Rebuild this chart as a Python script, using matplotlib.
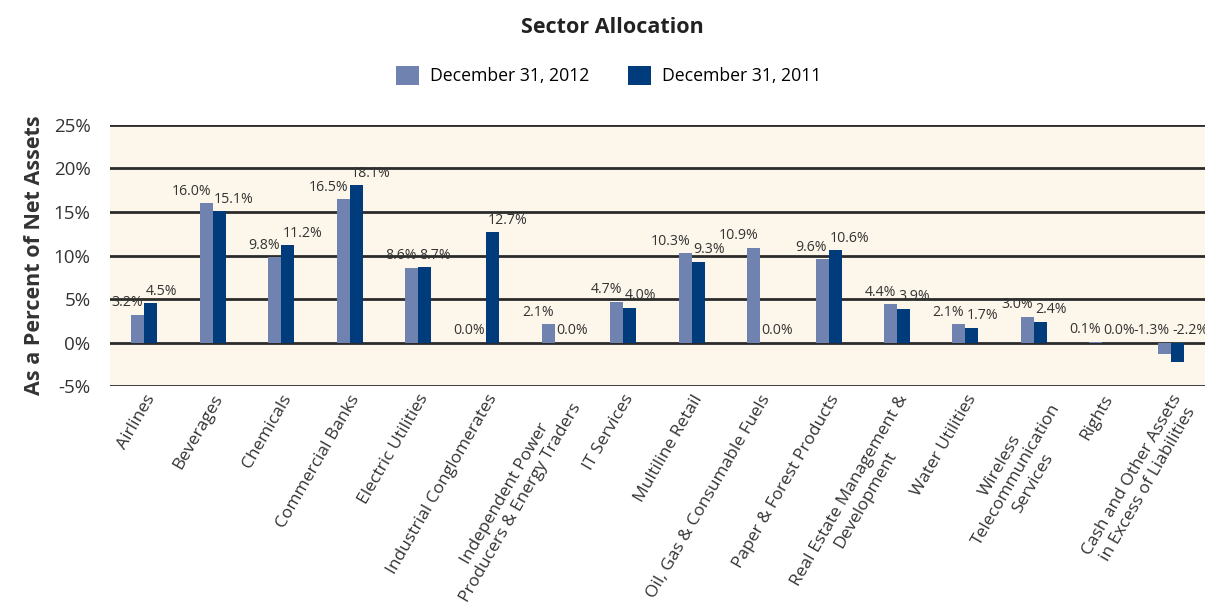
import matplotlib.pyplot as plt
import numpy as np

# Sector allocation data
SECTORS = ['Airlines', 'Beverages', 'Chemicals', 'Commercial Banks', 'Electric Utilities',
           'Industrial Conglomerates', 'Independent Power\nProducers & Energy Traders',
           'IT Services', 'Multiline Retail', 'Oil, Gas & Consumable Fuels',
           'Paper & Forest Products', 'Real Estate Management &\nDevelopment',
           'Water Utilities', 'Wireless\nTelecommunication\nServices', 'Rights',
           'Cash and Other Assets\nin Excess of Liabilities']
DEC_2012 = [3.2, 16.0, 9.8, 16.5, 8.6, 0.0, 2.1, 4.7, 10.3, 10.9, 9.6, 4.4, 2.1, 3.0, 0.1, -1.3]
DEC_2011 = [4.5, 15.1, 11.2, 18.1, 8.7, 12.7, 0.0, 4.0, 9.3, 0.0, 10.6, 3.9, 1.7, 2.4, 0.0, -2.2]
SERIES_NAMES = ['December 31, 2012', 'December 31, 2011']
COLOR_2012 = '#6f82b0'
COLOR_2011 = '#003b7c'
BG_COLOR = '#fdf6ea'

plt.rcParams['font.family'] = ['Open Sans', 'DejaVu Sans']

fig = plt.figure(figsize=(12.05, 6.15), dpi=100)
ax = fig.add_axes([0.0913, 0.372, 0.9087, 0.425])
ax.set_facecolor(BG_COLOR)

x = np.arange(len(SECTORS))
barWidth = 0.19
ax.bar(x - barWidth / 2, DEC_2012, barWidth, color=COLOR_2012, label=SERIES_NAMES[0], zorder=3)
ax.bar(x + barWidth / 2, DEC_2011, barWidth, color=COLOR_2011, label=SERIES_NAMES[1], zorder=3)

# Value labels, left one ends near the pair centre, right one starts there
for i in range(len(SECTORS)):
    ax.text(x[i] - 0.02, max(DEC_2012[i], 0) + 0.5, f'{DEC_2012[i]:.1f}%', ha='right', va='bottom',
            fontsize=10.2, color='#333333', zorder=4)
    ax.text(x[i] + 0.02, max(DEC_2011[i], 0) + 0.5, f'{DEC_2011[i]:.1f}%', ha='left', va='bottom',
            fontsize=10.2, color='#333333', zorder=4)

ax.set_xlim(-0.5, len(SECTORS) - 0.5)
ax.set_ylim(-5, 25)
ax.set_yticks(range(-5, 30, 5))
ax.set_yticklabels([f'{v}%' for v in range(-5, 30, 5)], fontsize=13.5, color='#333333')
for y in range(-5, 30, 5):
    ax.axhline(y, color='#2b2b2b', lw=2, zorder=2)
ax.tick_params(axis='y', length=0, pad=14)
ax.tick_params(axis='x', length=0, pad=4)
ax.set_xticks(x)
ax.set_xticklabels(SECTORS, rotation=60, ha='right', rotation_mode='anchor', fontsize=12.5,
                   color='#333333', multialignment='center')
for spine in ax.spines.values():
    spine.set_visible(False)

ax.set_ylabel('As a Percent of Net Assets', fontsize=15.5, fontweight='bold', color='#333333', labelpad=6)

fig.text(0.508, 0.955, 'Sector Allocation', ha='center', va='center', fontsize=15.5, fontweight='bold',
         color='#222222')
fig.legend(loc='center', bbox_to_anchor=(0.505, 0.877), ncol=2, frameon=False, fontsize=12.7,
           handlelength=1.3, handleheight=1.3, columnspacing=2.2, handletextpad=0.6)

fig.savefig('out.png', dpi=100)
